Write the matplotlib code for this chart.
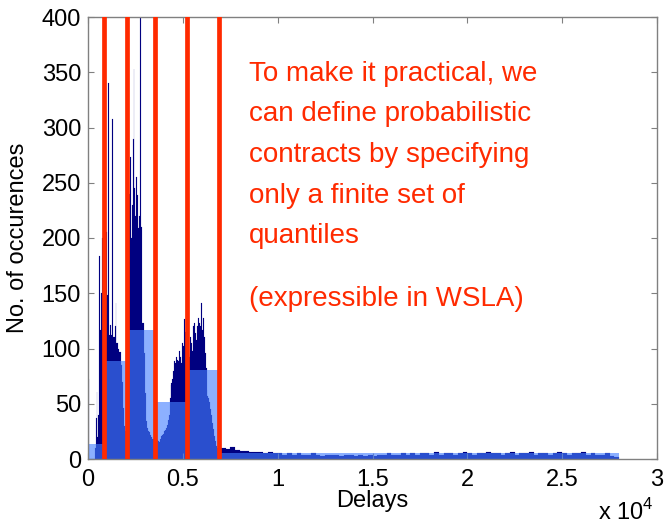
import matplotlib
matplotlib.use("Agg")
import matplotlib.pyplot as plt
import numpy as np

# histogram of delays
# main part: 50-wide bins from 0 to 7000
main_counts = [
    72, 0, 0, 0, 0, 0, 0, 10, 37, 61,
    20, 40, 184, 117, 150, 200, 240, 180, 160, 205,
    148, 340, 112, 121, 112, 308, 110, 110, 120, 141,
    105, 105, 100, 97, 97, 85, 70, 46, 30, 25,
    60, 150, 200, 240, 273, 200, 230, 290, 353, 245,
    220, 255, 239, 209, 220, 420, 210, 123, 123, 96,
    60, 34, 28, 25, 24, 22, 20, 20, 18, 18,
    17, 17, 17, 17, 16, 15, 18, 21, 22, 23,
    25, 26, 28, 31, 35, 40, 55, 67, 69, 72,
    80, 89, 87, 92, 90, 89, 98, 92, 87, 105,
    102, 127, 115, 110, 105, 100, 95, 92, 110, 105,
    98, 120, 123, 114, 108, 120, 128, 123, 120, 141,
    117, 128, 110, 96, 82, 62, 57, 55, 52, 45,
    40, 33, 27, 21, 16, 12, 10, 9, 9, 10,
]
# long tail: 250-wide bins from 7000 to 28000
tail_counts = [
    10, 9, 11, 8, 7, 7, 6, 6,
    6, 5, 6, 5, 5, 4, 5, 4,
    5, 4, 4, 5, 4, 3, 4, 4,
    4, 3, 4, 4, 3, 4, 3, 4,
    3, 4, 4, 5, 4, 4, 5, 4,
    5, 4, 5, 5, 4, 6, 4, 5,
    5, 4, 5, 6, 5, 4, 5, 5,
    6, 5, 5, 4, 5, 6, 4, 5,
    5, 6, 4, 5, 5, 4, 5, 6,
    5, 4, 5, 5, 6, 4, 5, 4,
    4, 5, 3, 2,
]
main_edges = np.arange(0, 7001, 50)
tail_edges = np.arange(7000, 28001, 250)

# quantile points (red lines) and the quantile histogram
quantiles = [820, 2030, 3530, 5240, 6900]
q_edges = [0, 820, 2030, 3530, 5240, 6900, 28000]
q_heights = [14, 88.5, 116.5, 51.5, 80.5, 5]

x_ticks = [0, 5000, 10000, 15000, 20000, 25000, 30000]
x_tick_labels = ["0", "0.5", "1", "1.5", "2", "2.5", "3"]
y_ticks = [0, 50, 100, 150, 200, 250, 300, 350, 400]

note_lines = [
    "To make it practical, we",
    "can define probabilistic",
    "contracts by specifying",
    "only a finite set of",
    "quantiles",
]
note_extra = "(expressible in WSLA)"

NAVY = "#000080"
LIGHT = (0.27, 0.5, 1.0)
RED = "#ff2a00"
GREY = "#808080"

plt.rcParams["font.family"] = ["Liberation Sans", "DejaVu Sans"]
plt.rcParams["mathtext.fontset"] = "custom"
plt.rcParams["mathtext.rm"] = "Liberation Sans"

W, H = 668, 526
fig = plt.figure(figsize=(W / 100, H / 100), dpi=100)
ax = fig.add_axes([88 / W, 1 - 459 / H, 569 / W, 442 / H])

# delay histogram
ax.bar(main_edges[:-1], main_counts, width=np.diff(main_edges), align="edge",
       color=NAVY, edgecolor=NAVY, linewidth=0.1, zorder=1)
ax.bar(tail_edges[:-1], tail_counts, width=np.diff(tail_edges), align="edge",
       color=NAVY, edgecolor=NAVY, linewidth=0.1, zorder=1)

# quantile bars, see-through so the histogram shows beneath
ax.bar(q_edges[:-1], q_heights, width=np.diff(q_edges), align="edge",
       color=LIGHT, alpha=0.62, linewidth=0, zorder=2)

for q in quantiles:
    ax.axvline(q, color=RED, linewidth=3.4, zorder=3)

ax.set_xlim(0, 30000)
ax.set_ylim(0, 400)
ax.set_xticks(x_ticks)
ax.set_xticklabels(x_tick_labels)
ax.set_yticks(y_ticks)

for s in ax.spines.values():
    s.set_color(GREY)
    s.set_linewidth(1.0)
ax.tick_params(direction="in", length=4, width=0.8, color=GREY,
               top=True, right=True, labelsize=17, labelcolor="black")
ax.tick_params(axis="x", pad=7)
ax.tick_params(axis="y", pad=5)

ax.set_xlabel("Delays", fontsize=17)
ax.xaxis.set_label_coords(0.5, -0.07)
ax.set_ylabel("No. of occurences", fontsize=17)
ax.yaxis.set_label_coords(-0.104, 0.5)

fig.text(654 / W, 1 - 520 / H, r"x 10$^4$", fontsize=17, ha="right", va="baseline")

# the red note
baselines = [81, 121, 162, 203, 243]
for line, b in zip(note_lines, baselines):
    fig.text(249 / W, 1 - b / H, line, fontsize=20, color=RED, va="baseline")
fig.text(249 / W, 1 - 306 / H, note_extra, fontsize=20, color=RED, va="baseline")

fig.savefig("out.png", dpi=100)
